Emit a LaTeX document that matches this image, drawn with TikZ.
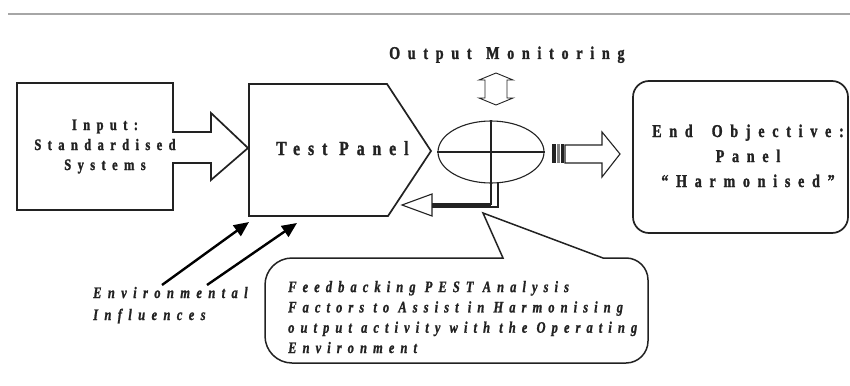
\documentclass[tikz,border=0pt]{standalone}
\usepackage{fontspec}
\setmainfont{Liberation Serif}
\newfontfamily\fOut[FakeStretch=0.78,LetterSpace=43,WordSpace=1.35,FakeBold=1.5]{Liberation Serif}
\newfontfamily\fTest[FakeStretch=0.78,LetterSpace=40,WordSpace=1.35,FakeBold=1.5]{Liberation Serif}
\newfontfamily\fIn[FakeStretch=0.78,LetterSpace=40,FakeBold=1.5]{Liberation Serif}
\newfontfamily\fEnd[FakeStretch=0.78,LetterSpace=43,WordSpace=1.3,FakeBold=1.5]{Liberation Serif}
\newfontfamily\fCall[FakeStretch=0.78,LetterSpace=38,FakeBold=1.2]{Liberation Serif}
\newfontfamily\fEnv[FakeStretch=0.78,LetterSpace=40,FakeBold=1.2]{Liberation Serif}
\usetikzlibrary{arrows.meta,shapes.geometric}
\definecolor{ink}{HTML}{222222}
\tikzset{
  outline/.style={draw=ink, line width=1.7pt, line join=miter},
  thin/.style={draw=ink, line width=1.1pt},
  lbl/.style={text=ink, inner sep=0pt},
  envarrow/.style={draw=black, line width=2.4pt, -{Triangle[length=15pt,width=13pt]}},
}
\begin{document}
\begin{tikzpicture}[x=1pt,y=-1pt]
\useasboundingbox (0,0) rectangle (850,385);
\fill[white] (0,0) rectangle (850,385);
% header rule
\draw[gray!70, line width=2pt] (8,14) -- (850,14);

% Input box with hollow arrow
\draw[outline] (173,132) -- (173,83) -- (17,83) -- (17,210) -- (173,210) -- (173,163)
  -- (211,163) -- (211,180) -- (248,148) -- (211,113) -- (211,132) -- cycle;
\node[lbl, font=\fIn\bfseries\fontsize{16}{20}\selectfont, align=center, anchor=base] (input) at (105,170)
  {Input:\\Standardised\\Systems};

% Test panel pentagon
\draw[outline] (249,84) -- (387,84) -- (431,151) -- (388,216) -- (249,216) -- cycle;
\node[lbl, font=\fTest\bfseries\fontsize{20}{24}\selectfont, anchor=base west] (test) at (276,155) {Test Panel};
\coordinate (tpA) at (249,222);
\coordinate (tpB) at (297,223);

% Output monitoring
\node[lbl, font=\fOut\bfseries\fontsize{18}{22}\selectfont, anchor=base west] (outmon) at (389,59) {Output Monitoring};
\draw[thin, line width=0.9pt] (496,73) -- (513,80) -- (507,80) -- (507,98) -- (513,98) -- (496,105)
  -- (479,98) -- (485,98) -- (485,80) -- (479,80) -- cycle;

% Ellipse with cross
\node[draw=ink, line width=1.1pt, ellipse, minimum width=106pt, minimum height=62pt, inner sep=0pt] (ell) at (491,152) {};
\draw[thin] (ell.west) -- (ell.east);
\draw[thin] (ell.north) -- (491,204) -- (432,204);
\draw[thin] (498,182) -- (498,207) -- (432,207);
\draw[ink, line width=2pt] (491,205.5) -- (432,205.5);
% feedback arrow head
\draw[thin] (432,194) -- (402,205) -- (432,216) -- cycle;

% right arrow with stripes
\fill[ink] (552,144) rectangle (555.5,163);
\fill[gray] (557,144) rectangle (559.5,163);
\fill[ink] (561,144) rectangle (564,163);
\draw[thin] (565,145) -- (602,145) -- (602,132) -- (620,154) -- (602,177) -- (602,163) -- (565,163) -- cycle;

% End objective box
\draw[outline, rounded corners=16] (633,81) rectangle (848,233);
\node[lbl, font=\fEnd\bfseries\fontsize{18}{25}\selectfont, align=center, anchor=base] (endobj) at (748,187)
  {End Objective:\\Panel\\“Harmonised”};

% Environmental influences
\node[lbl, font=\fEnv\bfseries\itshape\fontsize{16}{22}\selectfont, align=left, anchor=base west] (env) at (93,320)
  {Environmental\\Influences};
\coordinate (eA) at (162,285);
\coordinate (eB) at (207,285);
\draw[envarrow] (eA) -- (tpA);
\draw[envarrow] (eB) -- (tpB);

% Callout
\draw[outline, line width=1.5pt] (503,258) -- (483,213) -- (603,258) -- (626,258)
  arc[start angle=270, end angle=360, radius=22] -- (648,341)
  arc[start angle=0, end angle=90, radius=22] -- (292,363)
  arc[start angle=90, end angle=180, radius=27] -- (265,285)
  arc[start angle=180, end angle=270, radius=27] -- cycle;
\node[lbl, font=\fCall\bfseries\itshape\fontsize{16}{20.3}\selectfont, align=left, anchor=base west] (callout) at (288,353)
  {Feedbacking PEST Analysis\\Factors to Assist in Harmonising\\output activity with the Operating\\Environment};
\end{tikzpicture}
\end{document}
